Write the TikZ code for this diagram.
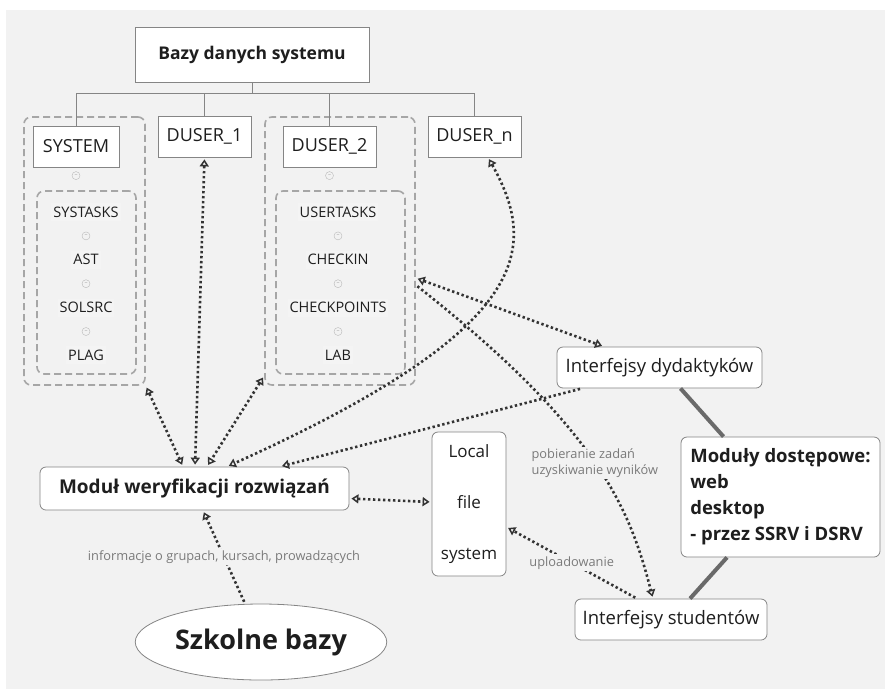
\documentclass[tikz,border=0pt]{standalone}
\usepackage{fontspec}
\setmainfont{Open Sans}
\usepackage{xcolor}
\usetikzlibrary{shapes.geometric, arrows.meta, positioning}
\definecolor{canvas}{HTML}{F2F2F2}
\definecolor{edge}{HTML}{858585}
\definecolor{ink}{HTML}{1E1E1E}
\definecolor{dots}{HTML}{333333}
\definecolor{note}{HTML}{7A7A7A}
\definecolor{heavyline}{HTML}{6A6A6A}

\begin{document}
\begin{tikzpicture}[
    x=1pt, y=-1pt,
    node distance=10.5pt,
    chev/.tip={Triangle[open, length=7pt, width=9pt, line width=1.5pt]},
    box/.style={draw=edge, fill=white, line width=0.8pt, text=ink, inner sep=3pt},
    dbbox/.style={box, minimum width=93pt, minimum height=41pt, font=\fontsize{18}{22}\selectfont},
    rbox/.style={box, rounded corners=6pt},
    group/.style={draw=gray!70, dash pattern=on 7pt off 4pt, line width=1.6pt, rounded corners=7pt},
    item/.style={fill=gray!9, minimum height=18pt, inner sep=2pt, text=ink, font=\fontsize{14.5}{17}\selectfont},
    toggle/.style={circle, draw=gray!55, fill=gray!10, minimum size=8pt, inner sep=0pt, text=gray!75, font=\fontsize{6}{6}\selectfont},
    tree/.style={draw=edge, line width=0.8pt},
    link/.style={draw=dots, line width=2.6pt, dash pattern=on 2.4pt off 2.6pt, shorten <=2pt, shorten >=2pt},
    both/.style={link, chev-chev},
    one/.style={link, -chev},
    heavy/.style={draw=heavyline, line width=4pt},
    tag/.style={fill=canvas, text=note, inner sep=2pt, font=\fontsize{12.8}{15.5}\selectfont}
]
\fill[canvas] (6,10) rectangle (885,689);
\useasboundingbox (0,0) rectangle (885,689);

\node[box, minimum width=234pt, minimum height=55pt, font=\bfseries\fontsize{17.5}{21}\selectfont] (bazy) at (252,55) {Bazy danych systemu};

\node[group, minimum width=121pt, minimum height=268pt] (sysgrp) at (84.5,251) {};
\node[group, minimum width=99pt, minimum height=183pt] (sysin) at (86.5,282.5) {};
\node[group, minimum width=150pt, minimum height=268pt] (usrgrp) at (340,251) {};
\node[group, minimum width=129pt, minimum height=183pt] (usrin) at (340.5,282.5) {};

\node[dbbox, minimum width=86pt] (system) at (76,146.5) {SYSTEM};
\node[dbbox] (duser1) at (204.5,136.5) {DUSER\_1};
\node[dbbox] (duser2) at (329.5,146.5) {DUSER\_2};
\node[dbbox] (dusern) at (474.5,136.5) {DUSER\_n};

\draw[tree] (bazy.south) -- ++(0,10) coordinate (bus);
\draw[tree] (system.north) |- (bus) -| (dusern.north);
\draw[tree] (duser1.north) -- (duser1.north |- bus);
\draw[tree] (duser2.north) -- (duser2.north |- bus);

\node[toggle, below=4pt of system] (systog) {--};
\node[item] (systasks) at (86,212) {SYSTASKS};
\node[toggle, below=of systasks] (systog1) {--};
\node[item, below=of systog1] (ast) {AST};
\node[toggle, below=of ast] (systog2) {--};
\node[item, below=of systog2] (solsrc) {SOLSRC};
\node[toggle, below=of solsrc] (systog3) {--};
\node[item, below=of systog3] (plag) {PLAG};

\node[toggle, below=4pt of duser2] (usrtog) {--};
\node[item] (usertasks) at (338,212) {USERTASKS};
\node[toggle, below=of usertasks] (usrtog1) {--};
\node[item, below=of usrtog1] (checkin) {CHECKIN};
\node[toggle, below=of checkin] (usrtog2) {--};
\node[item, below=of usrtog2] (checkpoints) {CHECKPOINTS};
\node[toggle, below=of checkpoints] (usrtog3) {--};
\node[item, below=of usrtog3] (lab) {LAB};

\node[rbox, minimum width=309pt, minimum height=43pt, font=\bfseries\fontsize{19}{23}\selectfont] (modul) at (194.5,488.5) {Moduł weryfikacji rozwiązań};
\node[rbox, minimum width=74pt, minimum height=144pt, align=center, font=\fontsize{17}{51}\selectfont] (lfs) at (469,504) {Local\\file\\system};
\node[rbox, minimum width=205pt, minimum height=41pt, font=\fontsize{18.5}{22}\selectfont] (dyd) at (659.5,367.5) {Interfejsy dydaktyków};
\node[rbox, minimum width=199pt, minimum height=120pt, align=left, font=\bfseries\fontsize{18.5}{26}\selectfont] (dostep) at (780.5,497) {Moduły dostępowe:\\web\\desktop\\- przez SSRV i DSRV};
\node[rbox, minimum width=192pt, minimum height=41pt, font=\fontsize{18.5}{22}\selectfont] (stud) at (671,619.5) {Interfejsy studentów};
\node[box, ellipse, minimum width=200pt, minimum height=76pt, font=\bfseries\fontsize{27}{32}\selectfont] (szkolne) at (261,642) {Szkolne bazy};

\draw[heavy] ([xshift=21pt]dyd.south) -- ([xshift=-57pt]dostep.north);
\draw[heavy] ([xshift=-53.5pt]dostep.south) -- ([xshift=19pt]stud.north);

\draw[both] (sysgrp.south east) -- ([xshift=-11.5pt]modul.north);
\draw[both] (duser1.south) -- ([xshift=0.5pt]modul.north);
\draw[both] ([yshift=10pt]usrgrp.south west) -- ([xshift=12.5pt]modul.north);
\draw[both] ([xshift=13.5pt]dusern.south) .. controls (540,250) and (530,330) .. ([xshift=32.5pt]modul.north);
\draw[one] ([xshift=-77.5pt]dyd.south) -- ([xshift=85.5pt]modul.north);
\draw[both] ([yshift=-27pt]usrgrp.east) -- ([xshift=-55.5pt]dyd.north);
\draw[one] ([yshift=-34pt]usrgrp.east) .. controls (600,430) and (630,510) .. node[tag, align=left] {pobieranie zadań\\uzyskiwanie wyników} ([xshift=-18pt]stud.north);
\draw[both] ([yshift=-10pt]modul.east) -- ([yshift=2pt]lfs.west);
\draw[one] ([xshift=-34pt]stud.north) -- node[tag] {uploadowanie} ([yshift=-23pt]lfs.east);
\draw[one] ([xshift=-16pt]szkolne.north) -- node[tag] {informacje o grupach, kursach, prowadzących} ([xshift=8.5pt]modul.south);
\end{tikzpicture}
\end{document}
